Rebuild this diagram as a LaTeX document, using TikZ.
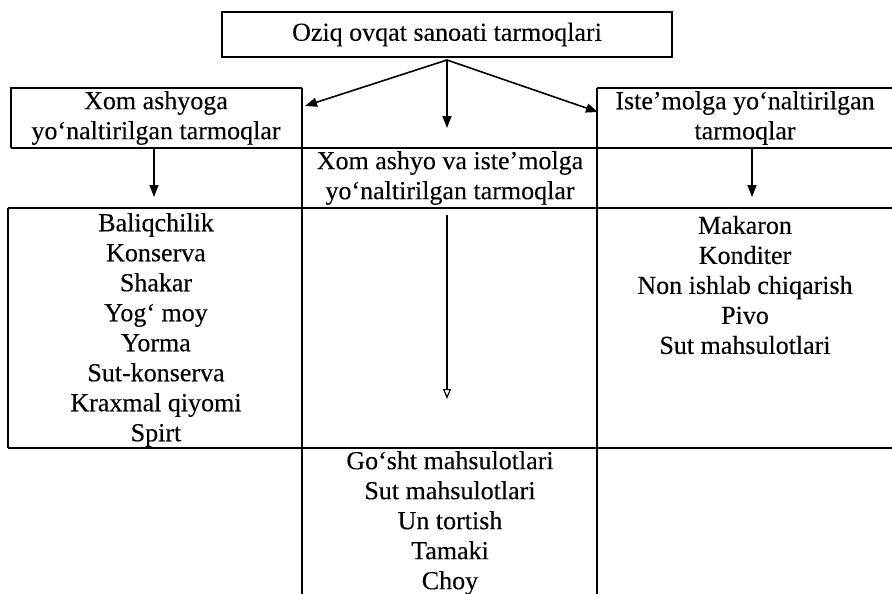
\documentclass[tikz,border=0pt]{standalone}
\usepackage{fontspec}
\setmainfont[FakeBold=0.2]{Liberation Serif}
\usetikzlibrary{arrows.meta}
\begin{document}
\begin{tikzpicture}[x=1pt,y=-1pt,
  every node/.style={font=\fontsize{26}{30}\selectfont, inner sep=0pt},
  rule/.style={line width=1.6pt},
  arr/.style={line width=1.6pt, -{Triangle[length=12pt,width=9pt]}},
  oarr/.style={line width=1.2pt, -{Triangle[open,length=10pt,width=8pt]}},
  txt/.style={align=center}]
\useasboundingbox (0,0) rectangle (892,594);
% top box
\node[draw, rule, minimum width=450pt, minimum height=45pt] (top) at (447,34.5) {Oziq ovqat sanoati tarmoqlari};
% frame lines
\draw[rule] (11,148) -- (11,88) -- (302,88);
\draw[rule] (597,88) -- (892,88);
\draw[rule] (11,148) -- (892,148);
\draw[rule] (8,208) -- (892,208);
\draw[rule] (8,448) -- (892,448);
\draw[rule] (8,208) -- (8,448);
\draw[rule] (302,88) -- (302,594);
\draw[rule] (597,88) -- (597,594);
% headers
\node[txt] (lh) at (156,118) {Xom ashyoga\\yo‘naltirilgan tarmoqlar};
\node[txt] (rh) at (745,118) {Iste’molga yo‘naltirilgan\\tarmoqlar};
\node[txt] (mh) at (450,178) {Xom ashyo va iste’molga\\yo‘naltirilgan tarmoqlar};
% lists
\node[txt] (ll) at (156,330) {Baliqchilik\\Konserva\\Shakar\\Yog‘ moy\\Yorma\\Sut-konserva\\Kraxmal qiyomi\\Spirt};
\node[txt] (rl) at (745,285) {Makaron\\Konditer\\Non ishlab chiqarish\\Pivo\\Sut mahsulotlari};
\node[txt] (bl) at (450,523) {Go‘sht mahsulotlari\\Sut mahsulotlari\\Un tortish\\Tamaki\\Choy};
% connectors
\coordinate (apex) at (447,60);
\coordinate (lhin) at (305,106);
\coordinate (rhin) at (598,112);
\coordinate (mhin) at (447,128);
\coordinate (lbot) at (154,148);
\coordinate (llin) at (154,197);
\coordinate (rbot) at (752,148);
\coordinate (rlin) at (752,197);
\coordinate (mtop) at (447,215);
\coordinate (mend) at (447,399);
\draw[arr] (apex) -- (lhin);
\draw[arr] (apex) -- (rhin);
\draw[arr] (apex) -- (mhin);
\draw[arr] (lbot) -- (llin);
\draw[arr] (rbot) -- (rlin);
\draw[oarr] (mtop) -- (mend);
\end{tikzpicture}
\end{document}
